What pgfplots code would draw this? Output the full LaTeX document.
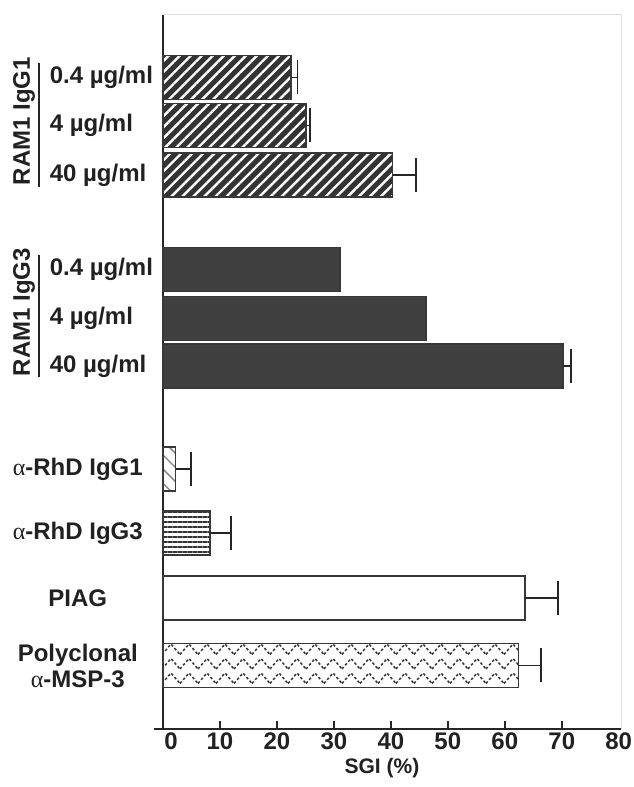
\documentclass[border=0pt]{standalone}
\usepackage{fontspec}
\setmainfont{Liberation Sans}
\newfontfamily\greekfont{Liberation Serif}
\newcommand\al{{\greekfont\mdseries α}}
\usepackage{pgfplots}
\pgfplotsset{compat=1.18}
\usetikzlibrary{patterns,patterns.meta}

\pgfdeclarepatternformonly{zigzag}{\pgfpoint{-1pt}{-1pt}}{\pgfpoint{19pt}{15.5pt}}{\pgfpoint{18pt}{14.5pt}}{%
  \pgfsetlinewidth{1.5pt}%
  \pgfsetdash{{2.6pt}{2.2pt}}{0pt}%
  \pgfpathmoveto{\pgfpoint{0pt}{2pt}}%
  \pgfpathlineto{\pgfpoint{9pt}{12.5pt}}%
  \pgfpathlineto{\pgfpoint{18pt}{2pt}}%
  \pgfusepath{stroke}}

\definecolor{txt}{gray}{0.13}
\definecolor{barline}{gray}{0.22}

\begin{document}
\begin{tikzpicture}[font=\fontsize{24}{26}\selectfont\bfseries, text=txt]
\useasboundingbox (-163pt,-58pt) rectangle (471pt,729pt);
\begin{axis}[
  at={(0,0)}, anchor=south west,
  scale only axis, width=458pt, height=714pt,
  xmin=0, xmax=80.4, ymin=0, ymax=714,
  axis x line*=bottom, axis y line*=left, separate axis lines,
  x axis line style={line width=2pt, black!85, shorten <=-9pt},
  y axis line style={line width=2pt, black!85},
  xtick={10,20,...,70},
  extra x ticks={0,80},
  extra x tick labels={\hspace{16pt}0,80},
  extra x tick style={major tick length=0pt},
  xtick align=inside,
  major tick length=8pt,
  x tick style={line width=1.5pt, black!85},
  xticklabel style={inner sep=0pt, yshift=-4pt},
  /pgf/number format/assume math mode=true,
  ytick={651.5,603.5,554,459.5,410.5,363,260,196,131,63.5},
  yticklabels={
    \makebox[105pt][l]{0.4 µg/ml},
    \makebox[105pt][l]{4 µg/ml},
    \makebox[105pt][l]{40 µg/ml},
    \makebox[105pt][l]{0.4 µg/ml},
    \makebox[105pt][l]{4 µg/ml},
    \makebox[105pt][l]{40 µg/ml},
    \makebox[154pt][c]{\al-RhD IgG1},
    \makebox[154pt][c]{\al-RhD IgG3},
    \makebox[154pt][c]{PIAG},
    \parbox{154pt}{\centering Polyclonal\\\al-MSP-3}},
  y tick style={draw=none},
  yticklabel style={anchor=east, inner sep=0pt, xshift=-8pt},
  xlabel={SGI (\%)},
  xlabel style={at={(rel axis cs:0.478,0)}, anchor=center, yshift=-39pt, font=\fontsize{21}{24}\selectfont\bfseries},
  clip=false,
  bar width=44,
  every axis plot/.append style={xbar, bar shift=0pt, draw=barline, line width=1.8pt},
  error bars/error bar style={line width=1.8pt, black!85},
  error bars/error mark options={rotate=90, mark size=17pt, line width=1.8pt, black!85},
]
% RAM1 IgG1
\addplot[preaction={fill=black!80}, pattern={Lines[angle=45,distance=7.8pt,line width=2.4pt]}, pattern color=white,
  error bars/.cd, x dir=plus, x explicit]
  coordinates {(22.4,651.5) +- (1.2,0) (25.1,603.5) +- (0.7,0) (40.3,554) +- (4.1,0)};
% RAM1 IgG3
\addplot[fill=black!75] coordinates {(31.1,459.5) (46.2,410.5)};
\addplot[fill=black!75, error bars/.cd, x dir=plus, x explicit]
  coordinates {(70.2,363) +- (1.4,0)};
% alpha-RhD IgG1
\addplot[pattern={Lines[angle=-45,distance=10pt,line width=1.3pt]}, pattern color=black!50,
  error bars/.cd, x dir=plus, x explicit]
  coordinates {(2.2,260) +- (2.7,0)};
% alpha-RhD IgG3
\addplot[pattern={Lines[angle=0,distance=5pt,line width=2.8pt]}, pattern color=black!80,
  error bars/.cd, x dir=plus, x explicit]
  coordinates {(8.2,196) +- (3.8,0)};
% PIAG
\addplot[fill=white, error bars/.cd, x dir=plus, x explicit]
  coordinates {(63.5,131) +- (5.9,0)};
% Polyclonal alpha-MSP-3
\addplot[pattern=zigzag, pattern color=black!80,
  error bars/.cd, x dir=plus, x explicit]
  coordinates {(62.4,63.5) +- (4.0,0)};
% faint top/right frame
\draw[black!12, line width=1pt] (rel axis cs:0,1) -- (rel axis cs:1,1) -- (rel axis cs:1,0);
% group labels
\node[rotate=90, anchor=center] at ([xshift=-139pt]axis cs:0,608) {RAM1 IgG1};
\node[rotate=90, anchor=center] at ([xshift=-139pt]axis cs:0,417) {RAM1 IgG3};
\draw[line width=1.5pt, black!85] ([xshift=-124pt]axis cs:0,666) -- ([xshift=-124pt]axis cs:0,542);
\draw[line width=1.5pt, black!85] ([xshift=-124pt]axis cs:0,474) -- ([xshift=-124pt]axis cs:0,352);
\end{axis}
\end{tikzpicture}
\end{document}
